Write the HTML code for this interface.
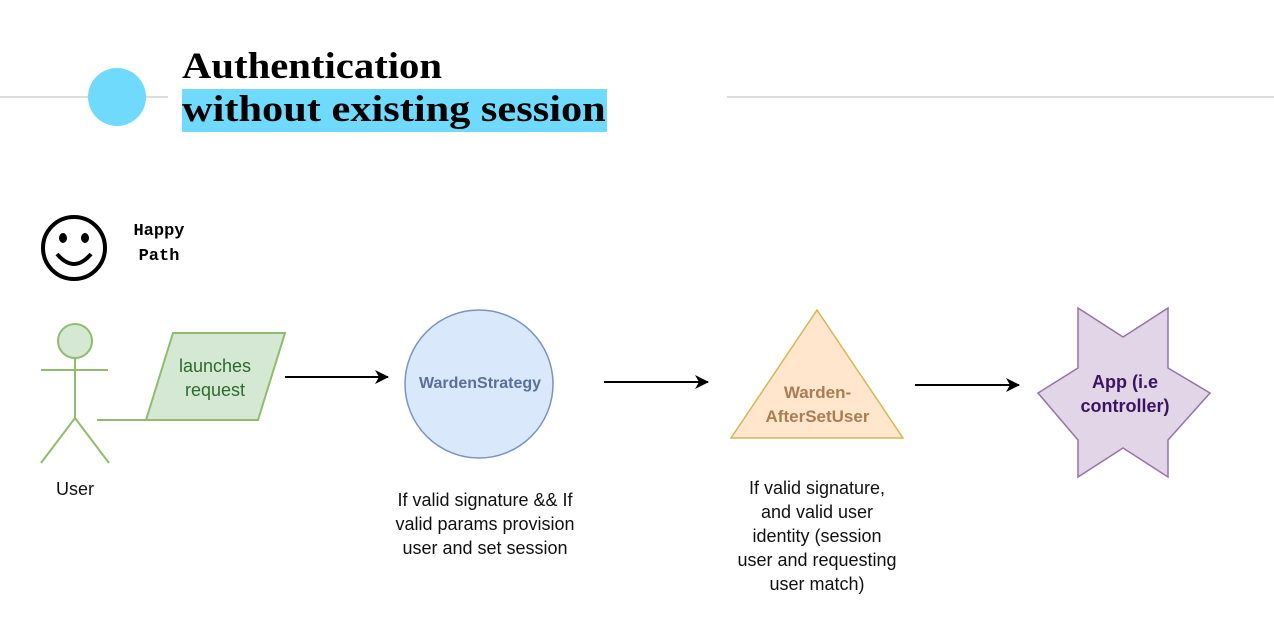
<!DOCTYPE html>
<html><head><style>
body{margin:0;width:1274px;height:630px;background:#fff;overflow:hidden;position:relative;font-family:"Liberation Sans",sans-serif}
.t{position:absolute;font-family:"Liberation Serif",serif;font-weight:bold;font-size:37px;color:#000;white-space:nowrap;transform-origin:0 0}
.c{position:absolute;text-align:center;font-size:18px;line-height:24px;color:#111}
</style></head><body>
<svg width="1274" height="630" style="position:absolute;left:0;top:0">
<defs><marker id="a" markerWidth="14" markerHeight="14" refX="13" refY="7" orient="auto" markerUnits="userSpaceOnUse"><path d="M0,0 L14,7 L0,14 L4,7z" fill="#000"/></marker></defs>
<line x1="0" y1="97" x2="168" y2="97" stroke="#ddd" stroke-width="2"/>
<line x1="727" y1="97" x2="1274" y2="97" stroke="#ddd" stroke-width="2"/>
<circle cx="117" cy="97" r="29" fill="#70dafc"/>
<rect x="182" y="89" width="425" height="43" fill="#70dafc"/>
<circle cx="74" cy="248" r="31" fill="none" stroke="#000" stroke-width="4"/>
<ellipse cx="63" cy="238" rx="4" ry="5"/><ellipse cx="85" cy="238" rx="4" ry="5"/>
<path d="M57,254 Q74,274 91,254" fill="none" stroke="#000" stroke-width="4"/>
<g stroke="#8fbc6e" stroke-width="2" fill="none">
<circle cx="75" cy="341" r="17" fill="#d5e8d4"/>
<line x1="75" y1="358" x2="75" y2="418"/><line x1="41" y1="370" x2="108" y2="370"/>
<path d="M41,463 L75,418 L109,463"/><line x1="97" y1="420" x2="150" y2="420"/>
<polygon points="173,333 285,333 258,420 146,420" fill="#d5e8d4"/>
</g>
<circle cx="479" cy="384" r="74" fill="#dae8fc" stroke="#7a93c3" stroke-width="1.5"/>
<polygon points="817,310 903,438 731,438" fill="#ffe6cc" stroke="#d6b656" stroke-width="1.5"/>
<polygon points="1078,308 1123,337 1168,308 1168,368 1210,393 1168,440 1168,477 1123,448 1078,477 1078,440 1038,393 1078,368" fill="#e1d5e7" stroke="#9673a6" stroke-width="1.5"/>
<g stroke="#000" stroke-width="2"><line x1="285" y1="377" x2="388" y2="377" marker-end="url(#a)"/>
<line x1="604" y1="382" x2="708" y2="382" marker-end="url(#a)"/>
<line x1="915" y1="385" x2="1019" y2="385" marker-end="url(#a)"/></g>
</svg>
<div class="t" style="left:182px;top:45px;transform:scaleX(1.1)">Authentication</div>
<div class="t" style="left:182px;top:88px;transform:scaleX(1.145)">without existing session</div>
<div style="position:absolute;left:124px;top:219px;font-family:'Liberation Mono',monospace;font-weight:bold;font-size:17px;line-height:25px;text-align:center;width:70px">Happy<br>Path</div>
<div class="c" style="left:150px;top:354px;width:130px;color:#2d6a2d">launches<br>request</div>
<div class="c" style="left:20px;top:477px;width:110px">User</div>
<div class="c" style="left:400px;top:372px;width:160px;color:#5a6f9a;font-weight:bold;font-size:16px">WardenStrategy</div>
<div class="c" style="left:740px;top:381px;width:155px;color:#a97e50;font-weight:bold;font-size:17px">Warden-<br>AfterSetUser</div>
<div class="c" style="left:1050px;top:370px;width:150px;color:#3c1361;font-weight:bold;font-size:18px">App (i.e<br>controller)</div>
<div class="c" style="left:380px;top:488px;width:210px">If valid signature &amp;&amp; If valid params provision user and set session</div>
<div class="c" style="left:717px;top:476px;width:200px">If valid signature,<br>and valid user<br>identity (session<br>user and requesting<br>user match)</div>
</body></html>
